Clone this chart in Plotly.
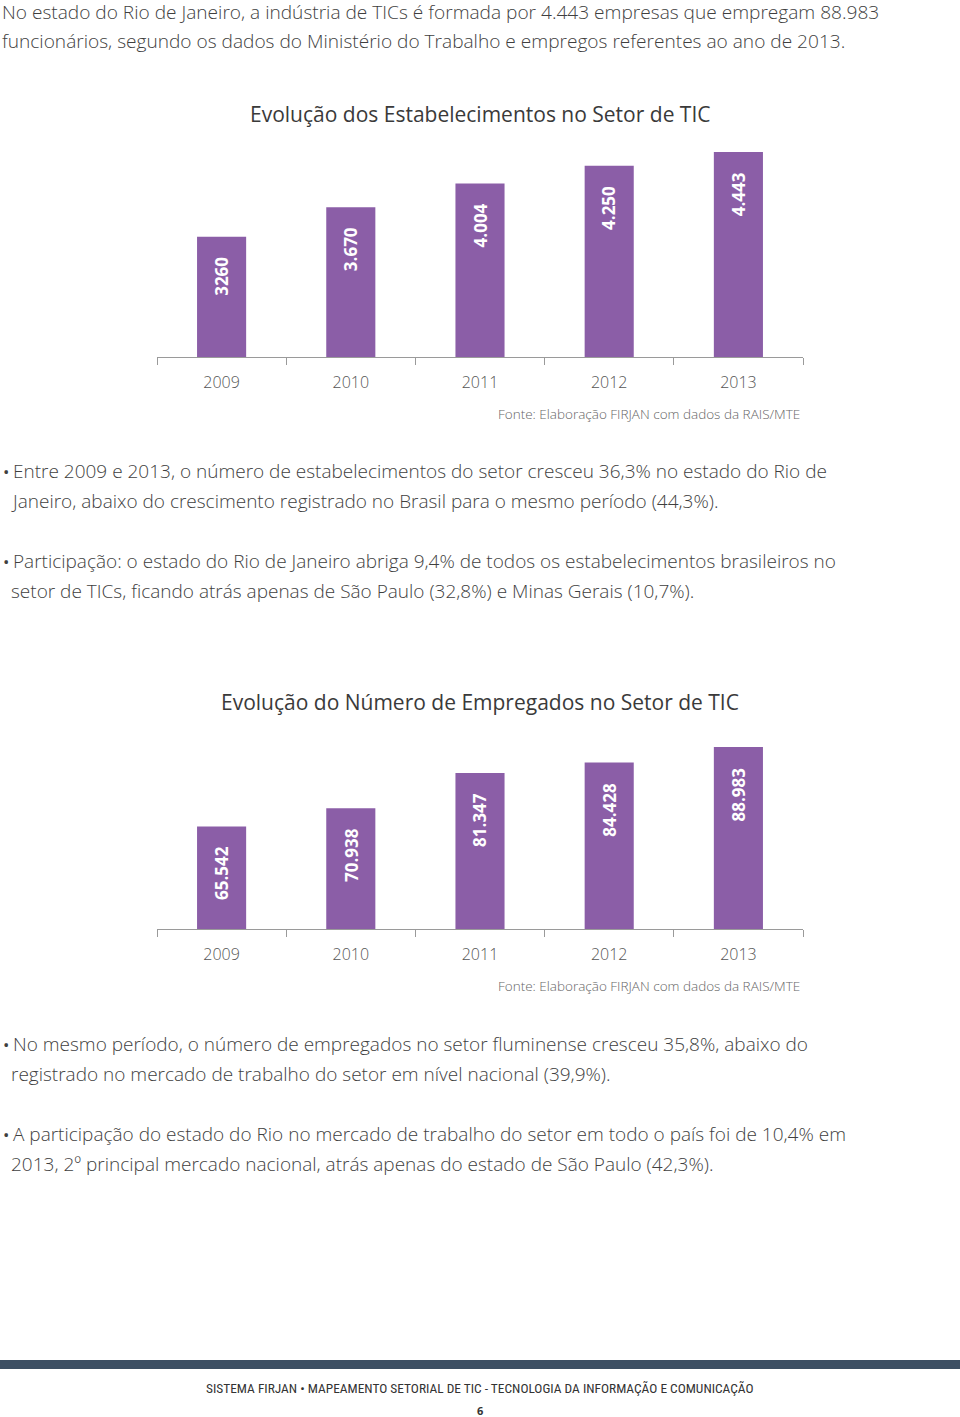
import plotly.graph_objects as go

W, H = 960, 1417

years = ["2009", "2010", "2011", "2012", "2013"]
estabelecimentos = [3260, 3670, 4004, 4250, 4443]
estab_labels = ["3260", "3.670", "4.004", "4.250", "4.443"]
empregados = [65542, 70938, 81347, 84428, 88983]
empreg_labels = ["65.542", "70.938", "81.347", "84.428", "88.983"]

title1 = "Evolução dos Estabelecimentos no Setor de TIC"
title2 = "Evolução do Número de Empregados no Setor de TIC"
fonte = "Fonte: Elaboração FIRJAN com dados da RAIS/MTE"

intro_lines = [
    "No estado do Rio de Janeiro, a indústria de TICs é formada por 4.443 empresas que empregam 88.983",
    "funcionários, segundo os dados do Ministério do Trabalho e empregos referentes ao ano de 2013.",
]
bullet1 = [
    "Entre 2009 e 2013, o número de estabelecimentos do setor cresceu 36,3% no estado do Rio de",
    "Janeiro, abaixo do crescimento registrado no Brasil para o mesmo período (44,3%).",
]
bullet2 = [
    "Participação: o estado do Rio de Janeiro abriga 9,4% de todos os estabelecimentos brasileiros no",
    "setor de TICs, ficando atrás apenas de São Paulo (32,8%) e Minas Gerais (10,7%).",
]
bullet3 = [
    "No mesmo período, o número de empregados no setor fluminense cresceu 35,8%, abaixo do",
    "registrado no mercado de trabalho do setor em nível nacional (39,9%).",
]
bullet4 = [
    "A participação do estado do Rio no mercado de trabalho do setor em todo o país foi de 10,4% em",
    "2013, 2º principal mercado nacional, atrás apenas do estado de São Paulo (42,3%).",
]
footer = "SISTEMA FIRJAN • MAPEAMENTO SETORIAL DE TIC - TECNOLOGIA DA INFORMAÇÃO E COMUNICAÇÃO"
page_num = "6"

BAR = "#8B5EA7"
BODY_FONT = "Open Sans"
TXT = "#3f3f3f"


def py(p):
    return 1 - p / H


def px(p):
    return p / W


fig = go.Figure()
fig.add_trace(go.Bar(x=years, y=estabelecimentos, marker=dict(color=BAR, line=dict(width=0)),
                     xaxis="x", yaxis="y", hoverinfo="skip"))
fig.add_trace(go.Bar(x=years, y=empregados, marker=dict(color=BAR, line=dict(width=0)),
                     xaxis="x2", yaxis="y2", hoverinfo="skip"))

axis_common = dict(type="category", range=[-0.5, 4.5], autorange=False, automargin=False,
                   showline=True, linecolor="#9a9a9a", linewidth=1, ticks="outside",
                   tickson="boundaries", ticklen=7, tickcolor="#9a9a9a", tickwidth=1,
                   showgrid=False, zeroline=False, fixedrange=True, tickangle=0,
                   tickfont=dict(family=BODY_FONT, size=16, color="#555555", weight=300),
                   ticklabelstandoff=11)

fig.update_layout(
    template="none",
    width=W, height=H, margin=dict(l=0, r=0, t=0, b=0, pad=0, autoexpand=False),
    autosize=False,
    paper_bgcolor="white", plot_bgcolor="white", showlegend=False,
    bargap=0.62,
    xaxis=dict(domain=[px(157), px(803)], anchor="y", **axis_common),
    yaxis=dict(domain=[py(357), py(140)], range=[1583, 4609], autorange=False, visible=False,
               fixedrange=True, automargin=False),
    xaxis2=dict(domain=[px(157), px(803)], anchor="y2", **axis_common),
    yaxis2=dict(domain=[py(929), py(735)], range=[35217, 92552], autorange=False, visible=False,
                fixedrange=True, automargin=False),
)

ann = []

# bar value labels (x given as category index on the category axis)
for xr, yr, vals, labs in [("x", "y", estabelecimentos, estab_labels),
                           ("x2", "y2", empregados, empreg_labels)]:
    for i, (v, lab) in enumerate(zip(vals, labs)):
        ann.append(dict(x=i, y=v, xref=xr, yref=yr, text=lab, showarrow=False,
                        textangle=-90, xanchor="center", yanchor="top", yshift=-18,
                        font=dict(family="Open Sans", size=17, color="white", weight="bold")))


def line(text, x, y, size=19, color=TXT, anchor="left", family=BODY_FONT, weight=300):
    ann.append(dict(x=px(x), y=py(y), xref="paper", yref="paper", text=text, showarrow=False,
                    xanchor=anchor, yanchor="middle",
                    font=dict(family=family, size=size, color=color, weight=weight)))


line(intro_lines[0], 0, 12, size=19.1)
line(intro_lines[1], 0, 41, size=19.1)

line(title1, 480, 114, size=21, color="#3a3a3a", anchor="center", weight=500)
line(fonte, 802, 414, size=13.5, color="#666666", anchor="right")

for lines, y0 in [(bullet1, 471), (bullet2, 561), (bullet3, 1044), (bullet4, 1134)]:
    line("•", 1, y0, size=17, weight="normal")
    line(lines[0], 11, y0)
    line(lines[1], 9, y0 + 30)

line(title2, 480, 702, size=21, color="#3a3a3a", anchor="center", weight=500)
line(fonte, 802, 986, size=13.5, color="#666666", anchor="right")

line(footer, 480, 1388, size=13.4, color="#333333", anchor="center",
     family="Roboto Condensed, Liberation Sans Narrow, Roboto", weight="normal")
line(page_num, 480, 1410, size=11, color="#333333", anchor="center", weight="bold")

fig.update_layout(annotations=ann)
fig.add_shape(type="rect", xref="paper", yref="paper", x0=0, x1=1, y0=py(1369), y1=py(1360),
              fillcolor="#3d4f63", line=dict(width=0), layer="below")

fig.write_html("out.html", config={"displayModeBar": False, "staticPlot": True},
               post_script="document.body.style.margin='0';document.body.style.padding='0';"
                           "document.documentElement.style.overflow='hidden';")
